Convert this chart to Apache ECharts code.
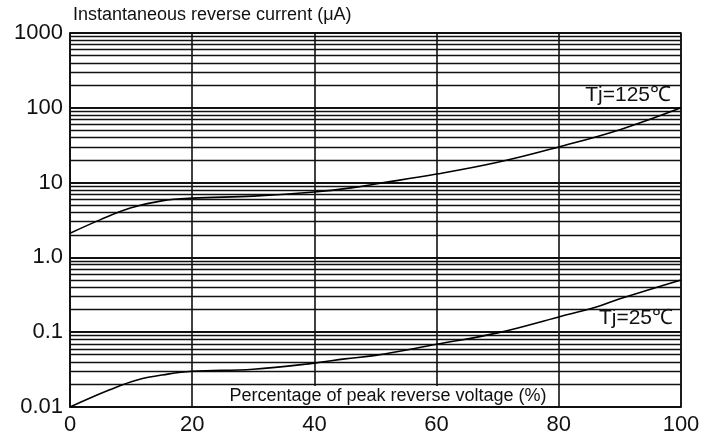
<!DOCTYPE html>
<html>
<head>
<meta charset="utf-8">
<script src="https://cdn.jsdelivr.net/npm/echarts@6/dist/echarts.min.js"></script>
<style>
html,body{margin:0;padding:0;background:#fff;}
#chart{width:707px;height:440px;}
</style>
</head>
<body>
<div id="chart"></div>
<script>
// ---- data ----
var xTicks = [0, 20, 40, 60, 80, 100];
var yTickLabels = ["0.01", "0.1", "1.0", "10", "100", "1000"];
var yTickValues = [0.01, 0.1, 1, 10, 100, 1000];

var x125 = [0, 5, 10, 15, 20, 30, 40, 46, 50, 60, 70, 80, 90, 100];
var y125 = [2.1, 3.2, 4.6, 5.7, 6.2, 6.6, 7.5, 8.5, 9.6, 13, 18.7, 30, 51, 100];

var x25 = [0, 6.5, 11, 16, 20, 30, 40, 45, 50, 60, 70, 80, 86, 90, 100];
var y25 = [0.01, 0.017, 0.023, 0.0275, 0.030, 0.032, 0.0386, 0.044, 0.049, 0.069, 0.098, 0.16, 0.215, 0.28, 0.5];

var decades = [0.01, 0.1, 1, 10, 100];
var minorMult = [2, 3, 4, 5, 6, 7, 8, 9];

var yTitle = "Instantaneous reverse current (\u03bcA)";
var xTitle = "Percentage of peak reverse voltage (%)";
var label125 = "Tj=125\u2103";
var label25 = "Tj=25\u2103";

// ---- build ----
function pairs(xs, ys) { return xs.map(function (x, i) { return [x, ys[i]]; }); }
var minorLines = [];
decades.forEach(function (d) {
  minorMult.forEach(function (m) { minorLines.push({ yAxis: +(m * d).toPrecision(3) }); });
});

var LINE = '#111';
var FONT = 'Liberation Sans, Arial, sans-serif';
var chart = echarts.init(document.getElementById('chart'), null, { renderer: 'canvas' });
chart.setOption({
  animation: false,
  backgroundColor: '#fff',
  grid: { left: 70, right: 26, top: 33, bottom: 33, show: true, borderColor: LINE, borderWidth: 1.5, backgroundColor: 'transparent' },
  xAxis: {
    type: 'value', min: 0, max: 100, interval: 20,
    axisLine: { show: true, lineStyle: { color: LINE, width: 1.5 } },
    axisTick: { show: false },
    axisLabel: { color: '#111', fontSize: 22, fontFamily: FONT, margin: 7 },
    splitLine: { show: true, lineStyle: { color: LINE, width: 1.6 } }
  },
  yAxis: {
    type: 'log', logBase: 10, min: 0.01, max: 1000,
    axisLine: { show: true, lineStyle: { color: LINE, width: 1.5 } },
    axisTick: { show: false },
    axisLabel: {
      color: '#111', fontSize: 22, fontFamily: FONT, margin: 7,
      formatter: function (v) {
        for (var i = 0; i < yTickValues.length; i++) {
          if (Math.abs(Math.log10(v) - Math.log10(yTickValues[i])) < 1e-6) return yTickLabels[i];
        }
        return '';
      }
    },
    splitLine: { show: true, lineStyle: { color: LINE, width: 2 } }
  },
  series: [
    {
      type: 'line', data: [], silent: true,
      markLine: { silent: true, symbol: 'none', label: { show: false },
        lineStyle: { color: LINE, width: 1.4, type: 'solid' }, data: minorLines, animation: false }
    },
    {
      type: 'line', name: label125, data: pairs(x125, y125), smooth: 0.4, showSymbol: false,
      lineStyle: { color: '#000', width: 1.6 }, z: 5
    },
    {
      type: 'line', name: label25, data: pairs(x25, y25), smooth: 0.4, showSymbol: false,
      lineStyle: { color: '#000', width: 1.6 }, z: 5
    }
  ],
  graphic: [
    { type: 'text', left: 73, top: 6, z: 100,
      style: { text: yTitle, fontSize: 18, fontFamily: FONT, fill: '#111' } },
    { type: 'rect', shape: { x: 225, y: 386, width: 326, height: 20 }, z: 100,
      style: { fill: '#fff' } },
    { type: 'text', x: 388, y: 396, z: 101,
      style: { text: xTitle, fontSize: 18, fontFamily: FONT, fill: '#111', align: 'center', verticalAlign: 'middle' } },
    { type: 'text', x: 671, y: 95, z: 100,
      style: { text: label125, fontSize: 21, fontFamily: FONT, fill: '#111', align: 'right', verticalAlign: 'middle' } },
    { type: 'text', x: 673, y: 318, z: 100,
      style: { text: label25, fontSize: 21, fontFamily: FONT, fill: '#111', align: 'right', verticalAlign: 'middle' } }
  ]
});
</script>
</body>
</html>
